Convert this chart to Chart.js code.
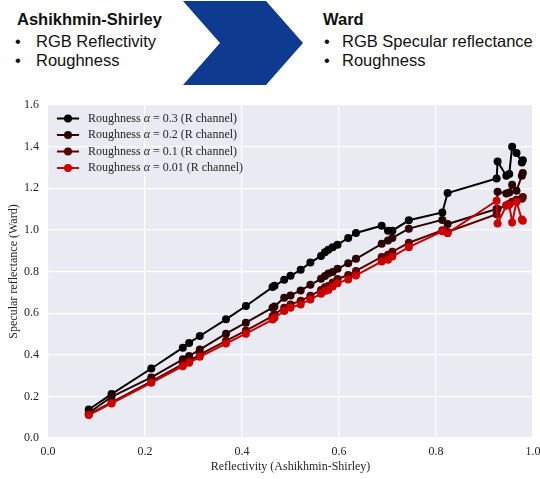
<!DOCTYPE html>
<html><head><meta charset="utf-8">
<script src="https://cdn.jsdelivr.net/npm/chart.js@4/dist/chart.umd.min.js"></script>
<style>
html,body{margin:0;padding:0;background:#fff;width:540px;height:479px;overflow:hidden;}
.h{position:absolute;font-family:'Liberation Sans',Arial,sans-serif;font-size:16.5px;line-height:20px;color:#111;white-space:nowrap;}
.b{font-weight:bold;}
#wrap{position:absolute;left:0;top:90px;width:540px;height:389px;}
</style></head><body>
<svg style="position:absolute;left:0;top:0" width="540" height="90"><polygon points="183,1 266,1 303,43 266,85 183,85 220,43" fill="#0e3b8f"/></svg>
<div class="h b" style="left:17px;top:9px">Ashikhmin-Shirley</div>
<div class="h" style="left:15px;top:31px">•</div>
<div class="h" style="left:36px;top:31px">RGB Reflectivity</div>
<div class="h" style="left:15px;top:50px">•</div>
<div class="h" style="left:36px;top:50px">Roughness</div>
<div class="h b" style="left:323px;top:8.5px">Ward</div>
<div class="h" style="left:324px;top:31px">•</div>
<div class="h" style="left:342px;top:31px">RGB Specular reflectance</div>
<div class="h" style="left:324px;top:50px">•</div>
<div class="h" style="left:342px;top:50px">Roughness</div>
<div id="wrap"><canvas id="c" width="540" height="389"></canvas></div>
<script>
const reflectivity = [0.084,0.131,0.213,0.278,0.291,0.313,0.367,0.408,0.463,0.467,0.487,0.500,0.521,0.541,0.563,0.571,0.578,0.587,0.597,0.619,0.635,0.688,0.701,0.710,0.744,0.813,0.824,0.925,0.927,0.945,0.951,0.957,0.966,0.977,0.979];
const wardRough03 = [0.137,0.211,0.334,0.434,0.457,0.490,0.570,0.634,0.725,0.731,0.760,0.779,0.808,0.843,0.875,0.893,0.904,0.917,0.929,0.961,0.985,1.020,0.996,0.996,1.046,1.084,1.177,1.247,1.328,1.260,1.268,1.400,1.369,1.324,1.335];
const wardRough02 = [0.120,0.198,0.291,0.378,0.394,0.425,0.501,0.554,0.626,0.632,0.674,0.685,0.709,0.736,0.765,0.778,0.790,0.797,0.813,0.840,0.861,0.933,0.949,0.961,1.006,1.048,1.028,1.100,1.183,1.175,1.180,1.217,1.188,1.260,1.273];
const wardRough01 = [0.113,0.171,0.272,0.355,0.371,0.401,0.467,0.516,0.585,0.594,0.626,0.642,0.659,0.683,0.711,0.724,0.730,0.747,0.764,0.783,0.803,0.870,0.880,0.895,0.938,0.998,0.990,1.075,1.100,1.118,1.125,1.135,1.145,1.150,1.158];
const wardRough001 = [0.110,0.166,0.265,0.345,0.361,0.390,0.454,0.501,0.569,0.578,0.610,0.626,0.642,0.666,0.693,0.706,0.711,0.728,0.744,0.762,0.781,0.848,0.857,0.872,0.917,0.993,0.984,1.140,1.031,1.116,1.121,1.036,1.135,1.050,1.044];
const alphaValues = ['0.3','0.2','0.1','0.01'];
const seriesColors = ['#000000','#2a0000','#5a0000','#cc0000'];
const xTitle = 'Reflectivity (Ashikhmin-Shirley)';
const yTitle = 'Specular reflectance (Ward)';

const allSeries = [wardRough03, wardRough02, wardRough01, wardRough001];
const SERIF = "'Liberation Serif','Times New Roman',serif";
const TXT = '#262626';

const datasets = allSeries.map((arr, k) => ({
  label: 'Roughness α = ' + alphaValues[k] + ' (R channel)',
  data: reflectivity.map((x, i) => ({x: x, y: arr[i]})),
  borderColor: seriesColors[k],
  backgroundColor: seriesColors[k],
  pointBackgroundColor: seriesColors[k],
  pointBorderColor: seriesColors[k],
  borderWidth: 2,
  pointRadius: 4,
  pointBorderWidth: 0,
  order: 4 - k,
  showLine: true,
  tension: 0
}));

const bgPlugin = {
  id: 'bg',
  beforeDraw(chart) {
    const {ctx, chartArea: a} = chart;
    ctx.save();
    ctx.fillStyle = '#eaeaf2';
    ctx.fillRect(a.left, a.top, a.right - a.left, a.bottom - a.top);
    ctx.restore();
  }
};

const legendPlugin = {
  id: 'customLegend',
  afterDatasetsDraw(chart) {
    const ctx = chart.ctx;
    ctx.save();
    const y0 = 28.5, dy = 16.5;
    datasets.forEach((ds, k) => {
      const y = y0 + k * dy;
      ctx.strokeStyle = ds.borderColor;
      ctx.lineWidth = 2;
      ctx.beginPath(); ctx.moveTo(57, y); ctx.lineTo(79, y); ctx.stroke();
      ctx.fillStyle = ds.borderColor;
      ctx.beginPath(); ctx.arc(68, y, 4, 0, Math.PI * 2); ctx.fill();
      ctx.fillStyle = TXT;
      ctx.textBaseline = 'middle';
      let x = 88;
      const parts = [['Roughness ', false], ['α', true], [' = ' + alphaValues[k] + ' (R channel)', false]];
      parts.forEach(([t, it]) => {
        ctx.font = (it ? 'italic ' : '') + '12px ' + SERIF;
        ctx.fillText(t, x, y);
        x += ctx.measureText(t).width;
      });
    });
    ctx.restore();
  }
};

new Chart(document.getElementById('c'), {
  type: 'scatter',
  data: {datasets: datasets},
  options: {
    responsive: false,
    animation: false,
    devicePixelRatio: 1,
    layout: {padding: {left: 0, right: 7, top: 15, bottom: 0}},
    plugins: {legend: {display: false}, tooltip: {enabled: false}},
    scales: {
      x: {
        type: 'linear', min: 0, max: 1,
        ticks: {stepSize: 0.2, callback: v => v.toFixed(1), font: {family: SERIF, size: 12}, color: TXT, padding: 7, maxRotation: 0, autoSkip: false},
        grid: {color: '#ffffff', lineWidth: 1.2, drawTicks: false},
        border: {display: false},
        title: {display: true, text: xTitle, font: {family: SERIF, size: 12}, color: TXT, padding: {top: 0, bottom: 5}},
        afterFit(s) { s.height = 41; s.paddingLeft = 0; s.paddingRight = 0; }
      },
      y: {
        type: 'linear', min: 0, max: 1.6,
        ticks: {stepSize: 0.2, callback: v => v.toFixed(1), font: {family: SERIF, size: 12}, color: TXT, padding: 9, autoSkip: false},
        grid: {color: '#ffffff', lineWidth: 1.2, drawTicks: false},
        border: {display: false},
        title: {display: true, text: yTitle, font: {family: SERIF, size: 12}, color: TXT, padding: {top: 7, bottom: 0}},
        afterFit(s) { s.width = 48; s.paddingTop = 0; s.paddingBottom = 0; }
      }
    }
  },
  plugins: [bgPlugin, legendPlugin]
});
</script>
</body></html>
